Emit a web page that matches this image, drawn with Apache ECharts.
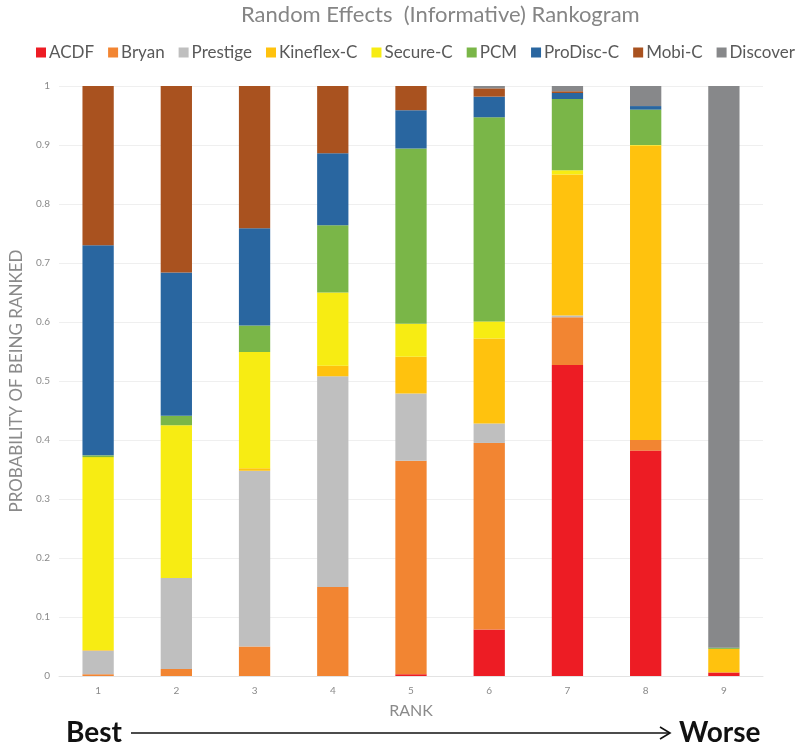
<!DOCTYPE html>
<html>
<head>
<meta charset="utf-8">
<script src="https://cdn.jsdelivr.net/npm/echarts@6/dist/echarts.min.js"></script>
<style>
html,body{margin:0;padding:0;background:#fff;}
#chart{width:800px;height:745px;}
</style>
</head>
<body>
<div id="chart"></div>
<script>
const ranks = ['1','2','3','4','5','6','7','8','9'];
const yTicks = [0,0.1,0.2,0.3,0.4,0.5,0.6,0.7,0.8,0.9,1];
const seriesNames = ['ACDF','Bryan','Prestige','Kineflex-C','Secure-C','PCM','ProDisc-C','Mobi-C','Discover'];
const ACDF      = [0, 0, 0, 0, 0.003, 0.079, 0.527, 0.382, 0.006];
const Bryan     = [0.003, 0.012, 0.050, 0.151, 0.362, 0.316, 0.081, 0.018, 0];
const Prestige  = [0.040, 0.154, 0.298, 0.357, 0.114, 0.033, 0.003, 0, 0];
const Kineflex  = [0.001, 0, 0.004, 0.018, 0.062, 0.144, 0.239, 0.499, 0.040];
const Secure    = [0.327, 0.259, 0.197, 0.124, 0.056, 0.029, 0.007, 0.001, 0];
const PCM       = [0.003, 0.016, 0.045, 0.114, 0.297, 0.346, 0.121, 0.060, 0.002];
const ProDisc   = [0.356, 0.243, 0.165, 0.122, 0.065, 0.035, 0.010, 0.006, 0];
const Mobi      = [0.270, 0.316, 0.241, 0.114, 0.041, 0.014, 0.003, 0, 0];
const Discover  = [0, 0, 0, 0, 0, 0.004, 0.009, 0.034, 0.952];
const seriesData = [ACDF, Bryan, Prestige, Kineflex, Secure, PCM, ProDisc, Mobi, Discover];
const colors = ['#ED1C24','#F28532','#BFBFBF','#FFC20E','#F7EC13','#7AB648','#2966A0','#A9521F','#87888A'];

const font = 'Lato, "Open Sans", sans-serif';
const chart = echarts.init(document.getElementById('chart'));
const option = {
  animation: false,
  color: colors,
  title: {
    text: 'Random Effects  (Informative) Rankogram',
    left: 236, top: -1,
    textStyle: {fontFamily: font, fontSize: 22, fontWeight: 'normal', color: '#858585'}
  },
  legend: {
    data: seriesNames,
    left: 36, top: 44, width: 764, padding: 0,
    icon: 'rect', itemWidth: 10, itemHeight: 10, itemGap: 14,
    textStyle: {fontFamily: font, fontSize: 17, color: '#595959', padding: [0,0,0,-2]}
  },
  grid: {left: 53, right: 37, top: 86, bottom: 69},
  xAxis: {
    type: 'category', data: ranks,
    name: 'RANK', nameLocation: 'middle', nameGap: 27,
    nameTextStyle: {fontFamily: font, fontSize: 16, color: '#8a8a8a'},
    axisLine: {lineStyle: {color: '#e3e3e3'}},
    axisTick: {show: false},
    axisLabel: {fontFamily: font, fontSize: 10, color: '#8a8a8a', margin: 10}
  },
  yAxis: {
    type: 'value', min: 0, max: 1, interval: 0.1,
    name: 'PROBABILITY OF BEING RANKED', nameLocation: 'middle', nameGap: 34,
    nameTextStyle: {fontFamily: font, fontSize: 17, color: '#8a8a8a'},
    axisLine: {show: false}, axisTick: {show: false},
    splitLine: {lineStyle: {color: '#efefef'}},
    axisLabel: {fontFamily: font, fontSize: 10, color: '#8a8a8a', margin: 9,
      formatter: v => { const t = yTicks.find(x => Math.abs(x - v) < 1e-9); return String(t !== undefined ? t : v); }}
  },
  series: seriesNames.map((n, i) => ({
    name: n, type: 'bar', stack: 'total', barWidth: '40%',
    data: seriesData[i]
  })),
  graphic: [
    {type: 'text', left: 66, top: 719, style: {text: 'Best', fontFamily: font, fontSize: 28, fontWeight: 'bold', fill: '#111'}},
    {type: 'line', shape: {x1: 131, y1: 733, x2: 669, y2: 733}, style: {stroke: '#111', lineWidth: 1.6}},
    {type: 'polyline', shape: {points: [[660, 727], [670, 733], [660, 739]]}, style: {stroke: '#111', lineWidth: 1.6, fill: null}},
    {type: 'text', left: 679, top: 719, style: {text: 'Worse', fontFamily: font, fontSize: 28, fontWeight: 'bold', fill: '#111'}}
  ]
};
chart.setOption(option);
</script>
</body>
</html>
